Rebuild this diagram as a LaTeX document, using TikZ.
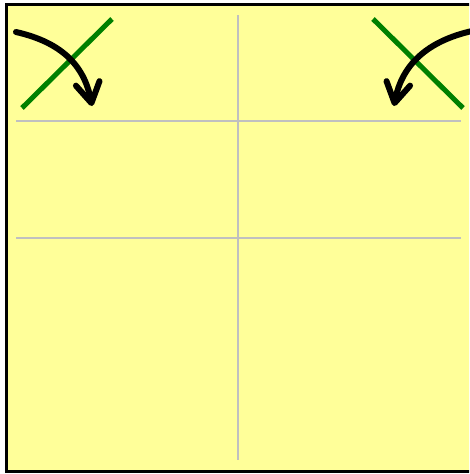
\documentclass[tikz,border=0pt]{standalone}
\usetikzlibrary{arrows.meta}
\definecolor{padyellow}{HTML}{FFFF99}
\definecolor{cutgreen}{HTML}{008000}
\definecolor{gridgray}{HTML}{C0C0C0}
\tikzset{
  gridline/.style={draw=gridgray,line width=2.5pt},
  cutline/.style={draw=cutgreen,line width=5pt},
  foldarrow/.style={draw=black,line width=6pt,line cap=round,
    -{Straight Barb[length=20pt,width=24pt,line cap=round,round]}}
}
\begin{document}
\begin{tikzpicture}[x=1pt,y=-1pt]
\useasboundingbox (0,0) rectangle (469,474);
\begin{scope}
\clip (0,0) rectangle (469,474);
\draw[fill=padyellow,draw=black,line width=3.5pt] (6.5,4.5) rectangle (473.5,471.5);
\end{scope}
% grid
\coordinate (vt) at (238,15); \coordinate (vb) at (238,460);
\coordinate (h1l) at (16,121); \coordinate (h1r) at (461,121);
\coordinate (h2l) at (16,238); \coordinate (h2r) at (461,238);
\draw[gridline] (vt) -- (vb);
\draw[gridline] (h1l) -- (h1r);
\draw[gridline] (h2l) -- (h2r);
% green cut lines
\coordinate (g1a) at (22,108); \coordinate (g1b) at (112,19);
\coordinate (g2a) at (373,19); \coordinate (g2b) at (463,108);
\draw[cutline] (g1a) -- (g1b);
\draw[cutline] (g2a) -- (g2b);
% arrows
\coordinate (a1s) at (16,32); \coordinate (a1e) at (92,106);
\coordinate (a2s) at (472,31); \coordinate (a2e) at (394,106);
\draw[foldarrow] (a1s) .. controls (60,42) and (84,64) .. (a1e);
\draw[foldarrow] (a2s) .. controls (428,41) and (402,64) .. (a2e);
\end{tikzpicture}
\end{document}
